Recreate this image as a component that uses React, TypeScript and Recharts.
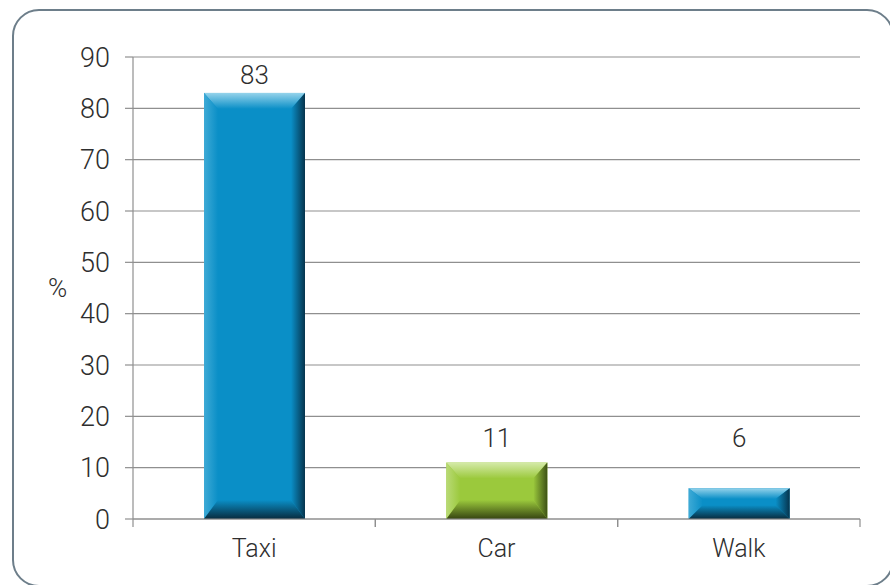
import React from 'react';
import { BarChart, Bar, XAxis, YAxis, CartesianGrid, LabelList } from 'recharts';

const categories = ['Taxi', 'Car', 'Walk'];
const shares = [83, 11, 6];
const barTones = ['blue', 'green', 'blue'];
const yTicks = [0, 10, 20, 30, 40, 50, 60, 70, 80, 90];

const data = categories.map((name, i) => ({ name, value: shares[i], tone: barTones[i] }));

const FONT = "Roboto, 'DejaVu Sans Condensed', sans-serif";
const WEIGHT = 300;
const TEXT = '#2e2e2e';
const LINE = '#8f8f8f';

const palettes: Record<string, { face: string; top: string; left: string; right: string; bottom: string }> = {
  blue: { face: '#0a8fc7', top: '#95d3eb', left: '#3eaad6', right: '#06344d', bottom: '#082b3e' },
  green: { face: '#9bc93c', top: '#d5eaa9', left: '#b9da76', right: '#3d5115', bottom: '#364411' },
};

const BevelBar = (props: any) => {
  const { x, y, width, height, payload } = props;
  if (!height || height <= 0) return null;
  const tone = payload.tone;
  const p = palettes[tone];
  const bt = Math.min(16, height * 0.35);
  const bb = Math.min(19, height * 0.45);
  const bs = Math.min(14, width * 0.15);
  const x2 = x + width;
  const y2 = y + height;
  return (
    <g>
      <rect x={x} y={y} width={width} height={height} fill={p.face} />
      <polygon points={`${x},${y} ${x2},${y} ${x2 - bs},${y + bt} ${x + bs},${y + bt}`} fill={`url(#${tone}-top)`} />
      <polygon points={`${x},${y} ${x + bs},${y + bt} ${x + bs},${y2 - bb} ${x},${y2}`} fill={`url(#${tone}-left)`} />
      <polygon points={`${x2},${y} ${x2},${y2} ${x2 - bs},${y2 - bb} ${x2 - bs},${y + bt}`} fill={`url(#${tone}-right)`} />
      <polygon points={`${x},${y2} ${x + bs},${y2 - bb} ${x2 - bs},${y2 - bb} ${x2},${y2}`} fill={`url(#${tone}-bottom)`} />
    </g>
  );
};

const ValueLabel = (props: any) => {
  const { x, y, width, height, value } = props;
  const perUnit = height / value;
  const base = y + height;
  const ty = Math.min(y - 9, base - 14 * perUnit);
  return (
    <text x={x + width / 2} y={ty} textAnchor="middle" fill={TEXT} fontSize={26} fontWeight={WEIGHT} fontFamily={FONT}>
      {value}
    </text>
  );
};

const CategoryTick = (props: any) => {
  const { x, y, payload, width } = props;
  const half = typeof payload.offset === 'number' && payload.offset > 0 ? payload.offset : width / (2 * categories.length);
  return (
    <g>
      <line x1={x - half} x2={x - half} y1={y - 8} y2={y} stroke={LINE} strokeWidth={1.2} />
      <line x1={x + half} x2={x + half} y1={y - 8} y2={y} stroke={LINE} strokeWidth={1.2} />
      <text x={x} y={y + 30} textAnchor="middle" fill={TEXT} fontSize={25} fontWeight={WEIGHT} fontFamily={FONT}>
        {payload.value}
      </text>
    </g>
  );
};

const gradient = (id: string, from: string, to: string, horizontal: boolean) => (
  <linearGradient key={id} id={id} x1="0" y1="0" x2={horizontal ? '1' : '0'} y2={horizontal ? '0' : '1'}>
    <stop offset="0%" stopColor={from} />
    <stop offset="100%" stopColor={to} />
  </linearGradient>
);

export default function App() {
  return (
    <div style={{ position: 'absolute', left: 0, top: 0, width: 890, height: 585, overflow: 'hidden', background: '#fff' }}>
      <div
        style={{
          position: 'absolute',
          left: 12,
          top: 9,
          width: 882,
          height: 578,
          boxSizing: 'border-box',
          border: '2.5px solid #6d7e8a',
          borderRadius: 27,
        }}
      />
      <div style={{ position: 'absolute', left: 0, top: 0 }}>
        <BarChart width={890} height={585} data={data} margin={{ top: 57, right: 30, left: 0, bottom: 26 }}>
          <defs>
            {Object.keys(palettes).flatMap((k) => {
              const p = palettes[k];
              return [
                gradient(`${k}-top`, p.top, p.face, false),
                gradient(`${k}-left`, p.left, p.face, true),
                gradient(`${k}-right`, p.face, p.right, true),
                gradient(`${k}-bottom`, p.face, p.bottom, false),
              ];
            })}
          </defs>
          <CartesianGrid vertical={false} stroke={LINE} strokeWidth={1.2} />
          <XAxis
            dataKey="name"
            height={40}
            axisLine={{ stroke: LINE, strokeWidth: 1.2 }}
            tickLine={false}
            tickSize={8}
            tickMargin={0}
            tick={<CategoryTick />}
            interval={0}
          />
          <YAxis
            width={133}
            domain={[0, 90]}
            ticks={yTicks}
            interval={0}
            tickSize={8}
            tickMargin={15}
            axisLine={{ stroke: LINE, strokeWidth: 1.2 }}
            tickLine={{ stroke: LINE, strokeWidth: 1.2 }}
            tick={{ fill: TEXT, fontSize: 27, fontWeight: WEIGHT, fontFamily: FONT }}
            label={{ value: '%', position: 'insideLeft', offset: 48, fill: TEXT, fontSize: 26, fontWeight: WEIGHT, fontFamily: FONT }}
          />
          <Bar dataKey="value" barSize={101} shape={<BevelBar />} isAnimationActive={false}>
            <LabelList dataKey="value" content={<ValueLabel />} />
          </Bar>
        </BarChart>
      </div>
    </div>
  );
}
